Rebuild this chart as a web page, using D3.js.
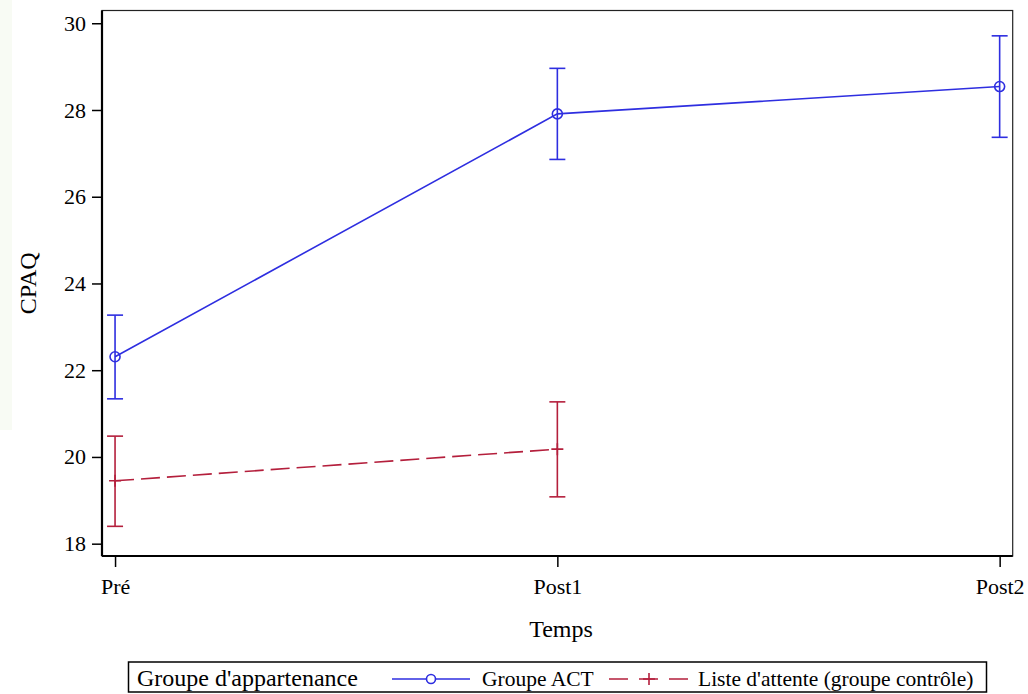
<!DOCTYPE html>
<html>
<head>
  <meta charset="utf-8">
  <script src="https://d3js.org/d3.v7.min.js"></script>
  <style>
    body { margin: 0; background: #fff; }
    text { font-family: "Liberation Serif", "Times New Roman", serif; fill: #000; }
  </style>
</head>
<body>
<div id="chart"></div>
<script>
// data
const times = ["Pré", "Post1", "Post2"];
const yTicks = [18, 20, 22, 24, 26, 28, 30];

const actMean  = [22.31, 27.91, 28.54];
const actLow   = [21.34, 26.86, 27.37];
const actHigh  = [23.27, 28.96, 29.71];

const ctrlMean = [19.45, 20.18];
const ctrlLow  = [18.40, 19.08];
const ctrlHigh = [20.48, 21.27];

const legendTitle = "Groupe d'appartenance";
const seriesNames = ["Groupe ACT", "Liste d'attente (groupe contrôle)"];

const W = 1028, H = 694;
const frame = { left: 102, top: 10.5, right: 1012.7, bottom: 556 };
const blue = "#2e2ee0", red = "#b41f3c";

const svg = d3.select("#chart").append("svg")
  .attr("width", W).attr("height", H);

// faint page tint on the left edge
svg.append("rect").attr("x", 0).attr("y", 0).attr("width", 12).attr("height", 430)
  .attr("fill", "#f8fbf4");

const x = d3.scalePoint().domain(times).range([frame.left, frame.right]).padding(0.0295);
const y = d3.scaleLinear().domain([17.716, 30.294]).range([frame.bottom, frame.top]);

// frame
svg.append("rect")
  .attr("x", frame.left).attr("y", frame.top)
  .attr("width", frame.right - frame.left).attr("height", frame.bottom - frame.top)
  .attr("fill", "none").attr("stroke", "#222").attr("stroke-width", 1.2);

// axes
const yAxis = svg.append("g")
  .attr("transform", `translate(${frame.left},0)`)
  .call(d3.axisLeft(y).tickValues(yTicks).tickSize(10).tickPadding(6).tickFormat(d3.format("d")));
const xAxis = svg.append("g")
  .attr("transform", `translate(0,${frame.bottom})`)
  .call(d3.axisBottom(x).tickSize(11).tickPadding(11));

[yAxis, xAxis].forEach(g => {
  g.select(".domain").attr("stroke", "#000").attr("stroke-width", 2.2);
  g.selectAll(".tick line").attr("stroke", "#000").attr("stroke-width", 1.5);
  g.selectAll(".tick text").style("font-size", "22px").attr("fill", "#000")
    .style("font-family", "'Liberation Serif', serif");
});
yAxis.select(".domain").attr("d", `M0,${frame.top}V${frame.bottom}`);
xAxis.select(".domain").attr("d", `M${frame.left},0H${frame.right}`);

// axis titles
svg.append("text")
  .attr("x", 561).attr("y", 637)
  .attr("text-anchor", "middle").style("font-size", "24px")
  .text("Temps");
svg.append("text")
  .attr("transform", `translate(36,${(frame.top + frame.bottom) / 2}) rotate(-90)`)
  .attr("text-anchor", "middle").style("font-size", "24px")
  .text("CPAQ");

function drawSeries(mean, low, high, color, dash, marker) {
  const pts = mean.map((m, i) => ({ t: times[i], m: m, lo: low[i], hi: high[i] }));
  const g = svg.append("g");

  g.append("path")
    .datum(pts)
    .attr("fill", "none")
    .attr("stroke", color)
    .attr("stroke-width", 1.6)
    .attr("stroke-dasharray", dash)
    .attr("d", d3.line().x(d => x(d.t)).y(d => y(d.m)));

  const bars = g.selectAll(".err").data(pts).join("g").attr("class", "err")
    .attr("stroke", color).attr("stroke-width", 1.6);
  bars.append("line")
    .attr("x1", d => x(d.t)).attr("x2", d => x(d.t))
    .attr("y1", d => y(d.lo)).attr("y2", d => y(d.hi));
  bars.append("line")
    .attr("x1", d => x(d.t) - 8).attr("x2", d => x(d.t) + 8)
    .attr("y1", d => y(d.hi)).attr("y2", d => y(d.hi));
  bars.append("line")
    .attr("x1", d => x(d.t) - 8).attr("x2", d => x(d.t) + 8)
    .attr("y1", d => y(d.lo)).attr("y2", d => y(d.lo));

  if (marker === "circle") {
    g.selectAll(".mk").data(pts).join("circle").attr("class", "mk")
      .attr("cx", d => x(d.t)).attr("cy", d => y(d.m)).attr("r", 5)
      .attr("fill", "none").attr("stroke", color).attr("stroke-width", 1.6);
  } else {
    g.selectAll(".mk").data(pts).join("path").attr("class", "mk")
      .attr("d", d => `M${x(d.t) - 6},${y(d.m)}H${x(d.t) + 6}M${x(d.t)},${y(d.m) - 6}V${y(d.m) + 6}`)
      .attr("stroke", color).attr("stroke-width", 1.6);
  }
}

drawSeries(actMean, actLow, actHigh, blue, null, "circle");
drawSeries(ctrlMean, ctrlLow, ctrlHigh, red, "19,7", "plus");

// legend
const leg = svg.append("g");
leg.append("rect")
  .attr("x", 128.5).attr("y", 662).attr("width", 858).attr("height", 30)
  .attr("fill", "#fff").attr("stroke", "#000").attr("stroke-width", 1.5);
leg.append("text").attr("x", 137).attr("y", 686).style("font-size", "24px").text(legendTitle);

const ly = 679;
leg.append("line").attr("x1", 392).attr("x2", 470).attr("y1", ly).attr("y2", ly)
  .attr("stroke", blue).attr("stroke-width", 1.6);
leg.append("circle").attr("cx", 431).attr("cy", ly).attr("r", 4.5)
  .attr("fill", "#fff").attr("stroke", blue).attr("stroke-width", 1.6);
leg.append("text").attr("x", 482).attr("y", 686).style("font-size", "21.5px").text(seriesNames[0]);

leg.append("line").attr("x1", 609).attr("x2", 689).attr("y1", ly).attr("y2", ly)
  .attr("stroke", red).attr("stroke-width", 1.6).attr("stroke-dasharray", "19,11");
leg.append("path").attr("d", `M${643},${ly}H${655}M${649},${ly - 6}V${ly + 6}`)
  .attr("stroke", red).attr("stroke-width", 1.6);
leg.append("text").attr("x", 698).attr("y", 686).style("font-size", "21.5px").text(seriesNames[1]);
</script>
</body>
</html>
